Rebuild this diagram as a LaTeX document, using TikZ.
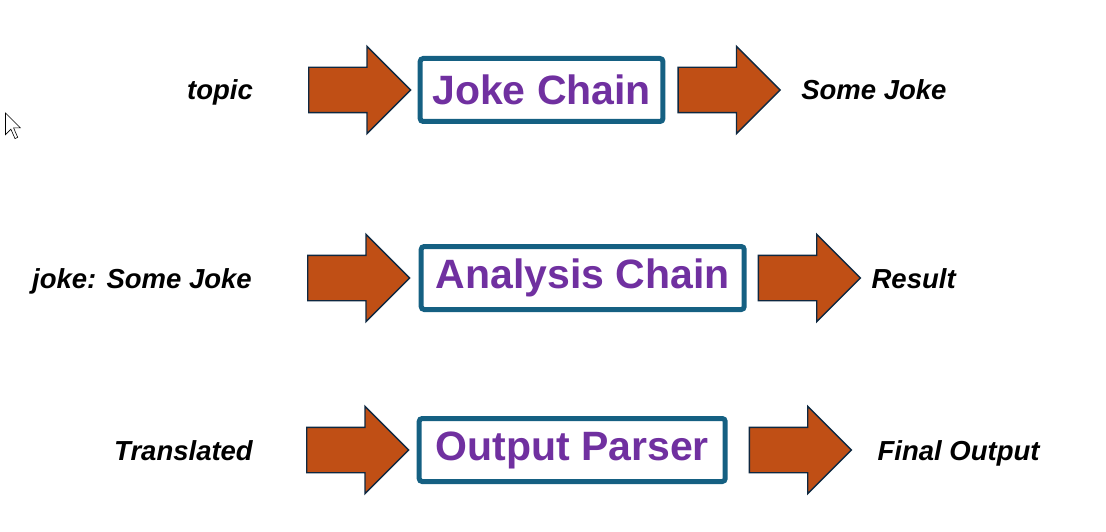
\documentclass[tikz,border=0pt]{standalone}
\usepackage{fontspec}
\setmainfont{Liberation Sans}
\usetikzlibrary{shapes,positioning,arrows}
\definecolor{chainblue}{HTML}{156082}
\definecolor{chainpurple}{HTML}{7030A0}
\definecolor{flowfill}{HTML}{C04F15}
\definecolor{flowedge}{HTML}{0E2841}

\begin{document}
\begin{tikzpicture}[x=1pt,y=-1pt,
flow/.style={single arrow, single arrow head extend=21pt,
  minimum height=102pt, minimum width=0pt, inner xsep=0pt, inner ysep=22pt,
  fill=flowfill, draw=flowedge, line width=1.4pt},
chain/.style={rectangle, rounded corners=3pt, line width=5pt, draw=chainblue,
  minimum height=63pt, inner xsep=12pt, font=\fontsize{41}{41}\bfseries, text=chainpurple}]

\tikzset{
  io/.style={font={\fontsize{27.5}{27.5}\bfseries\itshape}, inner sep=0pt,
    text height=24pt, text depth=4pt}
}

    \useasboundingbox (0,0) rectangle (1106,532);

    % row 1
    \node[flow, anchor=west] at (308,90) (jokein) {};
    \node[chain, right=6pt of jokein] (joke) {Joke Chain};
    \node[flow, right=12pt of joke] (jokeout) {};
    \node[io, left=55pt of jokein] (topic) {topic};
    \node[io, right=20pt of jokeout] (somejoke) {Some Joke};

    % row 2
    \node[flow, anchor=west] at (307,278) (analysisin) {};
    \node[chain, minimum width=323pt, right=8pt of analysisin] (analysis) {Analysis Chain};
    \node[flow, right=11pt of analysis] (analysisout) {};
    \node[io, left=55pt of analysisin] (jokeinput) {joke: Some Joke};
    \node[io, right=10pt of analysisout] (result) {Result};

    % row 3
    \node[flow, anchor=west] at (306,450) (parserin) {};
    \node[chain, minimum width=306pt, right=7pt of parserin] (parser) {Output Parser};
    \node[flow, right=21pt of parser] (parserout) {};
    \node[io, left=53pt of parserin] (translated) {Translated};
    \node[io, right=25pt of parserout] (final) {Final Output};

    % mouse pointer
    \draw[line width=0.6pt, fill=white, line join=miter]
        (5.5,113) -- (5.5,134.6) -- (10.9,129.2) -- (15,138.6) -- (17.7,137.3)
        -- (13.6,127.9) -- (20.4,127.9) -- cycle;

\end{tikzpicture}
\end{document}
